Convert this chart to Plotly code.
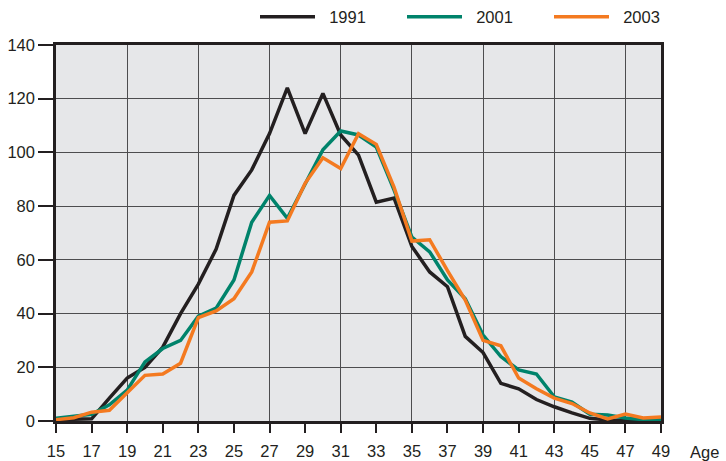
import plotly.graph_objects as go

ages = list(range(15, 50))
y1991 = [0.5, 0.5, 0.8, 8.5, 16, 20, 27.5, 40, 51, 64, 84, 93.5, 107, 124, 107, 122,
         106.5, 99, 81.5, 83, 65, 55.5, 50, 31.5, 25.5, 14, 12, 8, 5.3, 3, 1, 0.4, 0.2, 0, 0]
y2001 = [1, 1.8, 2.5, 6, 11.5, 22, 27, 30, 39, 42, 52.5, 74, 84, 75.5, 88, 101,
         108, 106.5, 102, 86, 68.5, 63, 52.5, 45.5, 32, 24, 19, 17.5, 9, 7, 2.5, 2.2, 1.1, 0.5, 0.5]
y2003 = [0.5, 1.2, 3.3, 4, 10.5, 17, 17.5, 21.5, 38.5, 41, 45.5, 55.5, 74, 74.5, 88.5, 98,
         94, 107, 103, 87, 67, 67.5, 56, 45, 30, 28, 16, 12, 8.5, 6.5, 3, 0.8, 2.6, 1.1, 1.5]

series = [("1991", y1991, "#231f20"), ("2001", y2001, "#00836b"), ("2003", y2003, "#f47a20")]

font_family = "Liberation Sans Narrow, Liberation Sans, Arial"
fs = 16.5

fig = go.Figure()
for name, ys, color in series:
    fig.add_trace(go.Scatter(x=ages, y=ys, name="\u00a0\u00a0" + name, mode="lines",
                             line=dict(color=color, width=3.5)))

fig.update_layout(
    width=726, height=461,
    margin=dict(l=56, r=65, t=45, b=40, autoexpand=False),
    paper_bgcolor="white",
    plot_bgcolor="#e6e7e9",
    font=dict(family=font_family, size=fs, color="#231f20"),
    showlegend=True,
    legend=dict(orientation="h", x=255 / 726, xanchor="left", xref="container",
                y=1 - 17 / 461, yanchor="middle", yref="container",
                font=dict(size=fs), itemwidth=55,
                entrywidth=77, entrywidthmode="pixels",
                bgcolor="rgba(0,0,0,0)", traceorder="normal"),
    xaxis=dict(range=[15, 49], tickmode="linear", tick0=15, dtick=2, automargin=False,
               showgrid=False, zeroline=False, ticks="outside", ticklen=9,
               ticklabelstandoff=4,
               tickwidth=1.5, tickcolor="#231f20", showline=True, linewidth=2.5,
               linecolor="#231f20", mirror=True, tickfont=dict(size=fs)),
    xaxis2=dict(range=[15, 49], overlaying="x", anchor="y", tickmode="linear",
                tick0=15, dtick=4, showgrid=True, gridcolor="#4d4d4f", gridwidth=1.3,
                showticklabels=False, ticks="", zeroline=False, showline=False,
                automargin=False),
    yaxis=dict(range=[0, 140], tickmode="linear", tick0=0, dtick=20, automargin=False,
               showgrid=True, gridcolor="#4d4d4f", gridwidth=1.3, zeroline=False,
               ticks="outside", ticklen=15, tickwidth=1.5, tickcolor="#231f20",
               showline=True, linewidth=2.5, linecolor="#231f20", mirror=True,
               tickfont=dict(size=fs)),
)
fig.add_trace(go.Scatter(x=[None], y=[None], xaxis="x2", yaxis="y", showlegend=False,
                         hoverinfo="skip"))
fig.add_annotation(text="Age", xref="paper", yref="paper", x=1.0446, y=0, yshift=-31,
                   xanchor="left", yanchor="middle", showarrow=False,
                   font=dict(size=fs, family=font_family))

fig.write_html("out.html", config={"displayModeBar": False},
               post_script="document.body.style.margin='0px';")
